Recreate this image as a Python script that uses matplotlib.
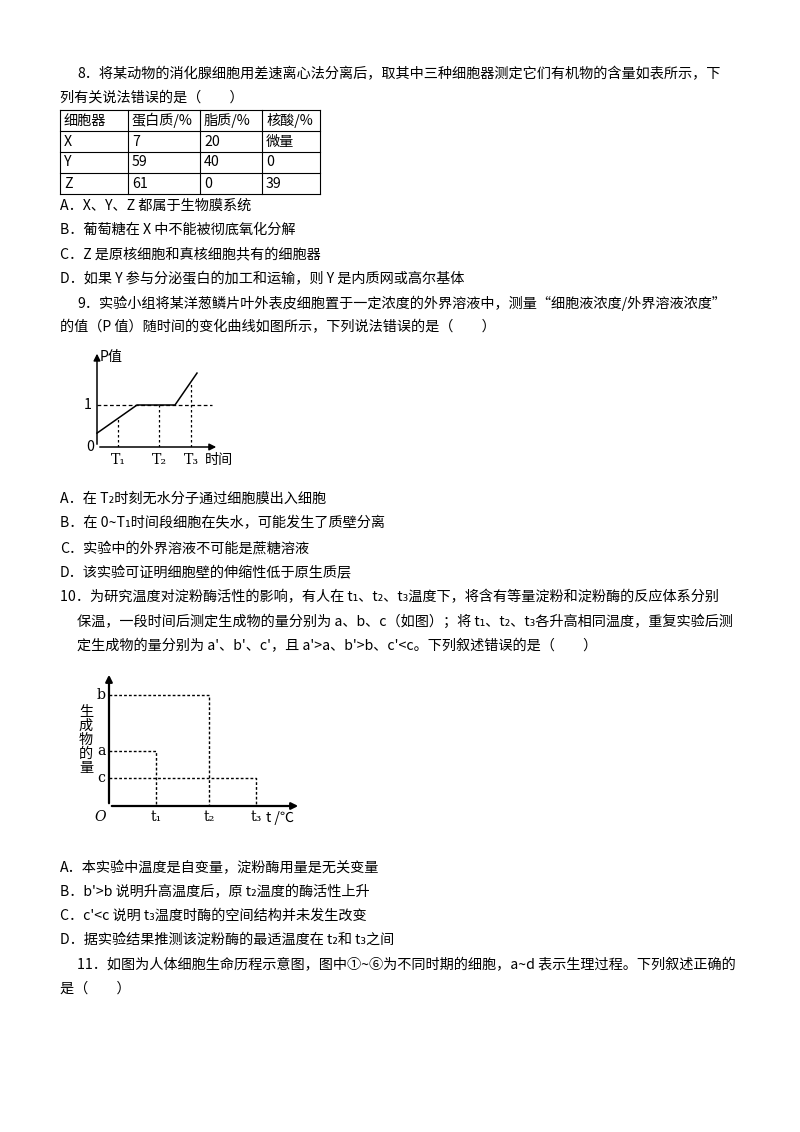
import matplotlib
matplotlib.use("Agg")
import matplotlib.pyplot as plt
plt.rcParams['font.family'] = ['Noto Sans CJK SC', 'DejaVu Sans']

# ---- data ----
table_header = ["细胞器", "蛋白质/%", "脂质/%", "核酸/%"]
table_rows = [["X", "7", "20", "微量"], ["Y", "59", "40", "0"], ["Z", "61", "0", "39"]]
p_t = [0, 40, 78, 100]          # time (arbitrary units)
p_val = [0.33, 1.0, 1.0, 1.76]  # P value
p_ticks = [21, 62, 94]
p_ticklabels = ["T₁", "T₂", "T₃"]
temps = [47, 100, 147]
amounts = [55, 111, 28]
amount_labels = ["a", "b", "c"]
temp_labels = ["t₁", "t₂", "t₃"]

lines = [
    (77, 74, "8．将某动物的消化腺细胞用差速离心法分离后，取其中三种细胞器测定它们有机物的含量如表所示，下"),
    (60, 98, "列有关说法错误的是（　　）"),
    (60, 206, "A．X、Y、Z 都属于生物膜系统"),
    (60, 230, "B．葡萄糖在 X 中不能被彻底氧化分解"),
    (60, 254, "C．Z 是原核细胞和真核细胞共有的细胞器"),
    (60, 279, "D．如果 Y 参与分泌蛋白的加工和运输，则 Y 是内质网或高尔基体"),
    (77, 303, "9．实验小组将某洋葱鳞片叶外表皮细胞置于一定浓度的外界溶液中，测量“细胞液浓度/外界溶液浓度”"),
    (60, 327, "的值（P 值）随时间的变化曲线如图所示，下列说法错误的是（　　）"),
    (60, 499, "A．在 T₂时刻无水分子通过细胞膜出入细胞"),
    (60, 523, "B．在 0~T₁时间段细胞在失水，可能发生了质壁分离"),
    (60, 548, "C．实验中的外界溶液不可能是蔗糖溶液"),
    (60, 573, "D．该实验可证明细胞壁的伸缩性低于原生质层"),
    (60, 597, "10．为研究温度对淀粉酶活性的影响，有人在 t₁、t₂、t₃温度下，将含有等量淀粉和淀粉酶的反应体系分别"),
    (77, 622, "保温，一段时间后测定生成物的量分别为 a、b、c（如图）；将 t₁、t₂、t₃各升高相同温度，重复实验后测"),
    (77, 646, "定生成物的量分别为 a'、b'、c'，且 a'>a、b'>b、c'<c。下列叙述错误的是（　　）"),
    (60, 868, "A．本实验中温度是自变量，淀粉酶用量是无关变量"),
    (60, 892, "B．b'>b 说明升高温度后，原 t₂温度的酶活性上升"),
    (60, 916, "C．c'<c 说明 t₃温度时酶的空间结构并未发生改变"),
    (60, 940, "D．据实验结果推测该淀粉酶的最适温度在 t₂和 t₃之间"),
    (77, 965, "11．如图为人体细胞生命历程示意图，图中①~⑥为不同时期的细胞，a~d 表示生理过程。下列叙述正确的"),
    (60, 989, "是（　　）"),
]

W, H = 800, 1132
fig = plt.figure(figsize=(8, 11.32), dpi=100)
page = fig.add_axes([0, 0, 1, 1])
page.set_xlim(0, W); page.set_ylim(H, 0); page.axis('off')
fs = 10.2
for x, y, s in lines:
    page.text(x, y, s, fontsize=fs, va='center', ha='left')

# table
cols = [60, 128, 200, 262, 320]
rows = [110, 131, 152, 173, 194]
for c in cols:
    page.plot([c, c], [rows[0], rows[-1]], color='black', lw=0.8)
for r in rows:
    page.plot([cols[0], cols[-1]], [r, r], color='black', lw=0.8)
for i, row in enumerate([table_header] + table_rows):
    for j, cell in enumerate(row):
        page.text(cols[j] + 4, (rows[i] + rows[i + 1]) / 2, cell, fontsize=fs, va='center')

def px_axes(x0, y0, x1, y1):
    return fig.add_axes([x0 / W, 1 - y0 / H, (x1 - x0) / W, (y0 - y1) / H])

# chart 1: origin (97,447), x to 217, y top 353
ax1 = px_axes(97, 447, 217, 353)
ax1.set_xlim(0, 120); ax1.set_ylim(0, 94 / 42)
ax1.axis('off')
ax1.plot(p_t, p_val, color='black', lw=1.1, clip_on=False)
ax1.plot([0, 115], [1, 1], ls=(0, (3, 2)), color='black', lw=0.9)
for t in p_ticks:
    yv = 1.0 if t < 78 else p_val[2] + (p_val[3] - p_val[2]) * (t - p_t[2]) / (p_t[3] - p_t[2])
    yv = min(yv, 0.33 + (1 - 0.33) * t / 40) if t < 40 else yv
    ax1.plot([t, t], [0, yv], ls=(0, (2, 2)), color='black', lw=0.9)
ax1.annotate('', xy=(122, 0), xytext=(0, 0), arrowprops=dict(arrowstyle='-|>', color='black', lw=1.1), annotation_clip=False)
ax1.annotate('', xy=(0, 94 / 42 + 0.05), xytext=(0, 0), arrowprops=dict(arrowstyle='-|>', color='black', lw=1.1), annotation_clip=False)
page.text(100, 357, "P值", fontsize=fs, va='center')
page.text(88, 405, "1", fontsize=fs, va='center', ha='center')
page.text(90, 447, "0", fontsize=fs, va='center', ha='center')
for t, lab in zip(p_ticks, p_ticklabels):
    page.text(97 + t, 460, lab, fontsize=fs, va='center', ha='center', family=['DejaVu Serif'])
page.text(205, 460, "时间", fontsize=fs, va='center')

# chart 2: origin (109,806), x to 298, y top 675
ax2 = px_axes(109, 806, 298, 675)
ax2.set_xlim(0, 189); ax2.set_ylim(0, 131)
ax2.axis('off')
for t, a in zip(temps, amounts):
    ax2.plot([0, t, t], [a, a, 0], ls=(0, (2, 1.5)), color='black', lw=1.0)
ax2.annotate('', xy=(192, 0), xytext=(0, 0), arrowprops=dict(arrowstyle='-|>', color='black', lw=1.6), annotation_clip=False)
ax2.annotate('', xy=(0, 134), xytext=(0, 0), arrowprops=dict(arrowstyle='-|>', color='black', lw=1.6), annotation_clip=False)
for a, lab in zip(amounts, amount_labels):
    page.text(101, 806 - a, lab, fontsize=fs, va='center', ha='center', family=['DejaVu Serif'])
for t, lab in zip(temps, temp_labels):
    page.text(109 + t, 817, lab, fontsize=fs, va='center', ha='center', family=['DejaVu Serif'])
page.text(100, 817, "O", fontsize=fs, va='center', ha='center', style='italic', family=['DejaVu Serif'])
page.text(280, 818, "t /℃", fontsize=fs, va='center', ha='center')
page.text(86, 740, "生\n成\n物\n的\n量", fontsize=fs, va='center', ha='center', linespacing=1.0, rotation=0)

fig.savefig("out.png", dpi=100)
